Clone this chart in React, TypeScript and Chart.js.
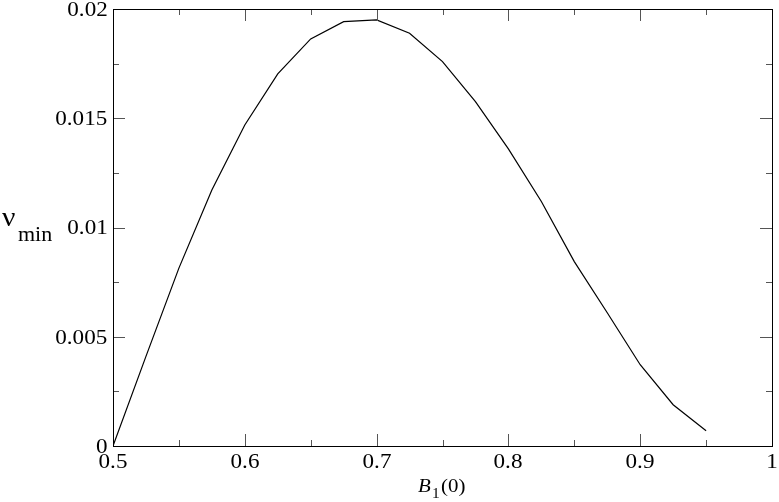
import React, { useEffect, useRef, useState } from "react";
import { Chart, registerables } from "chart.js";

Chart.register(...registerables);

const xValues = [0.5, 0.525, 0.55, 0.575, 0.6, 0.625, 0.65, 0.675, 0.7, 0.725, 0.75, 0.775, 0.8, 0.825, 0.85, 0.875, 0.9, 0.925, 0.95];
const nuMin = [0, 0.0041, 0.00814, 0.01172, 0.01469, 0.01703, 0.01863, 0.01942, 0.0195, 0.01889, 0.01759, 0.01576, 0.0136, 0.01119, 0.00844, 0.0061, 0.00372, 0.00189, 0.0007];

const xMajorTicks = [0.5, 0.6, 0.7, 0.8, 0.9, 1];
const xTickLabels = ["0.5", "0.6", "0.7", "0.8", "0.9", "1"];
const xMinorTicks = [0.55, 0.65, 0.75, 0.85, 0.95];
const yMajorTicks = [0, 0.005, 0.01, 0.015, 0.02];
const yTickLabels = ["0", "0.005", "0.01", "0.015", "0.02"];
const yMinorTicks = [0.0025, 0.0075, 0.0125, 0.0175];

const W = 779;
const H = 502;
const SERIF = "'Liberation Serif', 'Times New Roman', serif";
const SX = 1.1;

type Label = { text: string; x: number; base: number; size: number; italic?: boolean; align: "left" | "right" | "center" };

const framePlugin = {
  id: "xmgrFrame",
  afterDraw(chart: any) {
    const ctx: CanvasRenderingContext2D = chart.ctx;
    const { left, right, top, bottom } = chart.chartArea;
    const xs = chart.scales.x;
    const ys = chart.scales.y;
    ctx.save();
    ctx.strokeStyle = "#555";
    ctx.lineWidth = 1;
    ctx.beginPath();
    const xt = (v: number, len: number) => {
      const p = Math.round(xs.getPixelForValue(v)) + 0.5;
      ctx.moveTo(p, bottom);
      ctx.lineTo(p, bottom - len);
      ctx.moveTo(p, top);
      ctx.lineTo(p, top + len);
    };
    const yt = (v: number, len: number) => {
      const p = Math.round(ys.getPixelForValue(v)) + 0.5;
      ctx.moveTo(left, p);
      ctx.lineTo(left + len, p);
      ctx.moveTo(right, p);
      ctx.lineTo(right - len, p);
    };
    xMajorTicks.forEach((v) => xt(v, 12));
    xMinorTicks.forEach((v) => xt(v, 6));
    yMajorTicks.forEach((v) => yt(v, 12));
    yMinorTicks.forEach((v) => yt(v, 6));
    ctx.stroke();
    ctx.strokeStyle = "#000";
    ctx.lineWidth = 1;
    ctx.strokeRect(left + 0.5, top + 0.5, right - left, bottom - top);
    ctx.restore();
  },
};

export default function App() {
  const ref = useRef<HTMLCanvasElement | null>(null);
  const [labels, setLabels] = useState<Label[]>([]);
  useEffect(() => {
    document.body.style.margin = "0";
    const canvas = ref.current!;
    const chart = new Chart(canvas, {
      type: "line",
      data: {
        datasets: [
          {
            data: xValues.map((x, i) => ({ x, y: nuMin[i] })),
            borderColor: "#000",
            borderWidth: 1.2,
            pointRadius: 0,
            tension: 0,
            fill: false,
          },
        ],
      },
      options: {
        animation: false,
        responsive: false,
        devicePixelRatio: 1,
        layout: { padding: { left: 113, right: 7, top: 9, bottom: 56 } },
        plugins: { legend: { display: false }, tooltip: { enabled: false } },
        scales: {
          x: { type: "linear", min: 0.5, max: 1, display: false },
          y: { type: "linear", min: 0, max: 0.02, display: false },
        },
      },
      plugins: [framePlugin],
    });
    const xs: any = chart.scales.x;
    const ys: any = chart.scales.y;
    const { left, bottom } = chart.chartArea;
    const list: Label[] = [];
    xMajorTicks.forEach((v, i) =>
      list.push({ text: xTickLabels[i], x: xs.getPixelForValue(v), base: bottom + 23, size: 21, align: "center" })
    );
    yMajorTicks.forEach((v, i) =>
      list.push({ text: yTickLabels[i], x: left - 5.5, base: ys.getPixelForValue(v) + 7.5, size: 21, align: "right" })
    );
    list.push({ text: "\u03bd", x: 2, base: 227, size: 27, align: "left" });
    list.push({ text: "min", x: 18, base: 241, size: 20, align: "left" });
    list.push({ text: "B", x: 418, base: 492, size: 19, italic: true, align: "left" });
    list.push({ text: "1", x: 432, base: 499, size: 14, align: "left" });
    list.push({ text: "(0)", x: 441, base: 492, size: 19, align: "left" });
    setLabels(list);
    return () => {
      chart.destroy();
    };
  }, []);
  return (
    <div style={{ position: "absolute", left: 0, top: 0, width: W, height: H, background: "#fff", overflow: "hidden" }}>
      <canvas ref={ref} width={W} height={H} style={{ display: "block" }} />
      {labels.map((l, i) => {
        const style: React.CSSProperties = {
          position: "absolute",
          top: l.base - 0.8375 * l.size,
          fontFamily: SERIF,
          fontSize: l.size,
          lineHeight: `${l.size}px`,
          fontStyle: l.italic ? "italic" : "normal",
          whiteSpace: "nowrap",
          color: "#000",
        };
        if (l.align === "right") {
          style.right = W - l.x;
          style.transformOrigin = "100% 0";
          style.transform = `scaleX(${SX})`;
        } else if (l.align === "center") {
          style.left = l.x;
          style.transformOrigin = "50% 0";
          style.transform = `translateX(-50%) scaleX(${SX})`;
        } else {
          style.left = l.x;
          style.transformOrigin = "0 0";
          style.transform = `scaleX(${SX})`;
        }
        return (
          <span key={i} style={style}>
            {l.text}
          </span>
        );
      })}
    </div>
  );
}
